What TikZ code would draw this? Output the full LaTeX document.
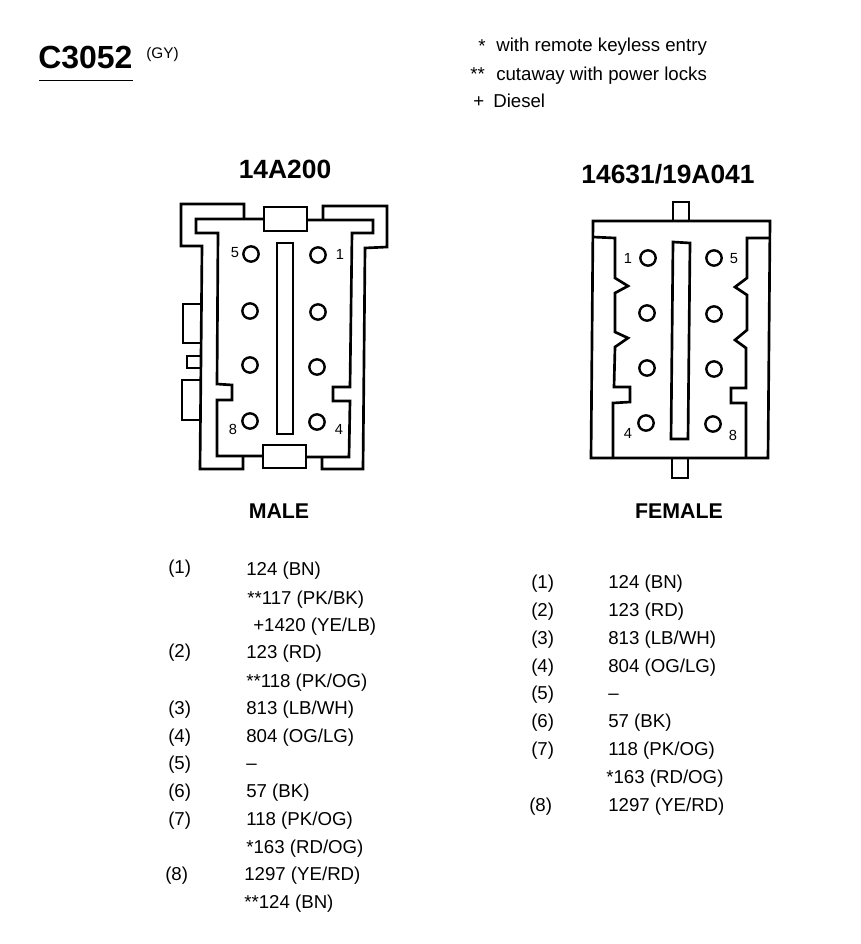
\documentclass[tikz,border=0pt]{standalone}
\usepackage{fontspec}
\setmainfont{Liberation Sans}
\begin{document}
\begin{tikzpicture}[x=0.75pt,y=0.75pt,yscale=-1,xscale=1,
  wall/.style={line width=2pt,line join=miter},
  pin/.style={draw,circle,line width=1.8pt,minimum size=11.5pt,inner sep=0pt},
  pinno/.style={font=\fontsize{11}{13}\selectfont},
  entry/.style={anchor=base west,inner sep=0pt,font=\fontsize{14}{16}\selectfont},
  heading/.style={font=\fontsize{19.8}{22}\selectfont\bfseries},
  sidelabel/.style={font=\fontsize{16}{19}\selectfont\bfseries}]
\useasboundingbox (0,0) rectangle (860,944);

% Title
\draw (38,69) node (title) [anchor=base west,inner sep=0pt,font=\fontsize{24}{28}\selectfont\bfseries] {C3052};
\draw (146,59) node (titlecolor) [anchor=base west,inner sep=0pt,font=\fontsize{11.5}{13}\selectfont] {(GY)};
\draw [line width=0.7pt] (39,80) -- (133,80);

% Notes
\draw (478,53) node (noteonestar) [entry] {*};
\draw (496,52) node (noteone) [entry] {with remote keyless entry};
\draw (470,81) node (notetwostar) [entry] {**};
\draw (496,81) node (notetwo) [entry] {cutaway with power locks};
\draw (473,108) node (noteplus) [entry] {+};
\draw (493,108) node (notethree) [entry] {Diesel};

% Headings
\draw (285,169) node (malepart) [heading] {14A200};
\draw (668,174) node (femalepart) [heading] {14631/19A041};
\draw (279,511) node (malelabel) [sidelabel] {MALE};
\draw (679,511) node (femalelabel) [sidelabel] {FEMALE};

%Male housing, inner wall
\draw [wall] (264,219) -- (196,219) -- (196,233) -- (218,233) -- (217,384) -- (232,385) -- (232,400) -- (217,400) -- (217,456) -- (263,456) ;
\draw [wall] (307,220) -- (373,220) -- (373,233) -- (352,233) -- (350,387) -- (333,387) -- (333,401) -- (350,401) -- (349,457) -- (306,457) ;
%Male housing, outer wall
\draw [wall] (244,218) -- (244,204) -- (181,204) -- (181,246) -- (202,246) -- (200,469) -- (243,469) -- (243,457) ;
\draw [wall] (323,219) -- (323,206) -- (387,206) -- (387,247) -- (365,248) -- (363,469) -- (322,469) -- (322,457) ;
%Male tabs and slot
\draw [wall] (264,207) rectangle (307,231) ;
\draw [wall] (263,445) rectangle (306,468) ;
\draw [wall] (201,304) -- (183,304) -- (183,343) -- (201,343) ;
\draw [wall] (201,356) -- (187,356) -- (187,368) -- (201,368) ;
\draw [wall] (201,380) -- (182,380) -- (182,420) -- (201,420) ;
\draw [wall] (277,243) rectangle (293,434) ;

% Male pins
\draw (251,254) node (mfive) [pin] {};
\draw (318,255) node (mone) [pin] {};
\draw (250,311) node (msix) [pin] {};
\draw (318,312) node (mtwo) [pin] {};
\draw (250,365) node (mseven) [pin] {};
\draw (317,367) node (mthree) [pin] {};
\draw (250,421) node (meight) [pin] {};
\draw (317,422) node (mfour) [pin] {};
\draw (235,253) node (mfivelabel) [pinno] {5};
\draw (340,254) node (monelabel) [pinno] {1};
\draw (233,429) node (meightlabel) [pinno] {8};
\draw (339,429) node (mfourlabel) [pinno] {4};

%Female housing
\draw [wall] (593,221) -- (770,221) -- (768,458) -- (591,458) -- cycle ;
%Female latch walls
\draw [wall] (593,237) -- (615,238) -- (615,278) -- (628,286) -- (615,293) -- (615,332) -- (628,338) -- (615,347) -- (614,387) -- (630,387) -- (630,402) -- (613,403) -- (613,458) ;
\draw [wall] (770,238) -- (747,238) -- (747,278) -- (735,287) -- (747,295) -- (747,330) -- (735,340) -- (746,348) -- (746,388) -- (731,388) -- (731,403) -- (746,403) -- (746,458) ;
%Female tabs and slot
\draw [wall] (673,221) -- (673,202) -- (689,202) -- (689,221) ;
\draw [wall] (672,459) -- (672,478) -- (688,478) -- (688,459) ;
\draw [wall] (673,242) -- (690,243) -- (688,439) -- (671,439) -- cycle ;

% Female pins
\draw (648,258) node (fone) [pin] {};
\draw (714,258) node (ffive) [pin] {};
\draw (647,313) node (ftwo) [pin] {};
\draw (714,314) node (fsix) [pin] {};
\draw (647,368) node (fthree) [pin] {};
\draw (714,369) node (fseven) [pin] {};
\draw (646,423) node (ffour) [pin] {};
\draw (713,424) node (feight) [pin] {};
\draw (628,258) node (fonelabel) [pinno] {1};
\draw (734,259) node (ffivelabel) [pinno] {5};
\draw (628,433) node (ffourlabel) [pinno] {4};
\draw (733,435) node (feightlabel) [pinno] {8};

% Male wire list
\draw (168,573) node (mrowone) [entry] {(1)};
\draw (246,575) node (mwireone) [entry] {124 (BN)};
\draw (247,604) node (mwireonea) [entry] {**117 (PK/BK)};
\draw (253,631) node (mwireoneb) [entry] {+1420 (YE/LB)};
\draw (168,657) node (mrowtwo) [entry] {(2)};
\draw (246,658) node (mwiretwo) [entry] {123 (RD)};
\draw (246,687) node (mwiretwoa) [entry] {**118 (PK/OG)};
\draw (168,714) node (mrowthree) [entry] {(3)};
\draw (246,714) node (mwirethree) [entry] {813 (LB/WH)};
\draw (168,742) node (mrowfour) [entry] {(4)};
\draw (246,742) node (mwirefour) [entry] {804 (OG/LG)};
\draw (168,769) node (mrowfive) [entry] {(5)};
\draw (246,769) node (mwirefive) [entry] {--};
\draw (168,797) node (mrowsix) [entry] {(6)};
\draw (246,797) node (mwiresix) [entry] {57 (BK)};
\draw (168,825) node (mrowseven) [entry] {(7)};
\draw (246,825) node (mwireseven) [entry] {118 (PK/OG)};
\draw (246,853) node (mwiresevena) [entry] {*163 (RD/OG)};
\draw (165,880) node (mroweight) [entry] {(8)};
\draw (244,880) node (mwireeight) [entry] {1297 (YE/RD)};
\draw (244,908) node (mwireeighta) [entry] {**124 (BN)};

% Female wire list
\draw (531,588) node (frowone) [entry] {(1)};
\draw (608,588) node (fwireone) [entry] {124 (BN)};
\draw (531,616) node (frowtwo) [entry] {(2)};
\draw (608,616) node (fwiretwo) [entry] {123 (RD)};
\draw (531,644) node (frowthree) [entry] {(3)};
\draw (608,644) node (fwirethree) [entry] {813 (LB/WH)};
\draw (531,672) node (frowfour) [entry] {(4)};
\draw (608,672) node (fwirefour) [entry] {804 (OG/LG)};
\draw (531,699) node (frowfive) [entry] {(5)};
\draw (608,699) node (fwirefive) [entry] {--};
\draw (531,727) node (frowsix) [entry] {(6)};
\draw (608,727) node (fwiresix) [entry] {57 (BK)};
\draw (531,755) node (frowseven) [entry] {(7)};
\draw (608,755) node (fwireseven) [entry] {118 (PK/OG)};
\draw (606,783) node (fwiresevena) [entry] {*163 (RD/OG)};
\draw (529,811) node (froweight) [entry] {(8)};
\draw (608,811) node (fwireeight) [entry] {1297 (YE/RD)};

\end{tikzpicture}
\end{document}
